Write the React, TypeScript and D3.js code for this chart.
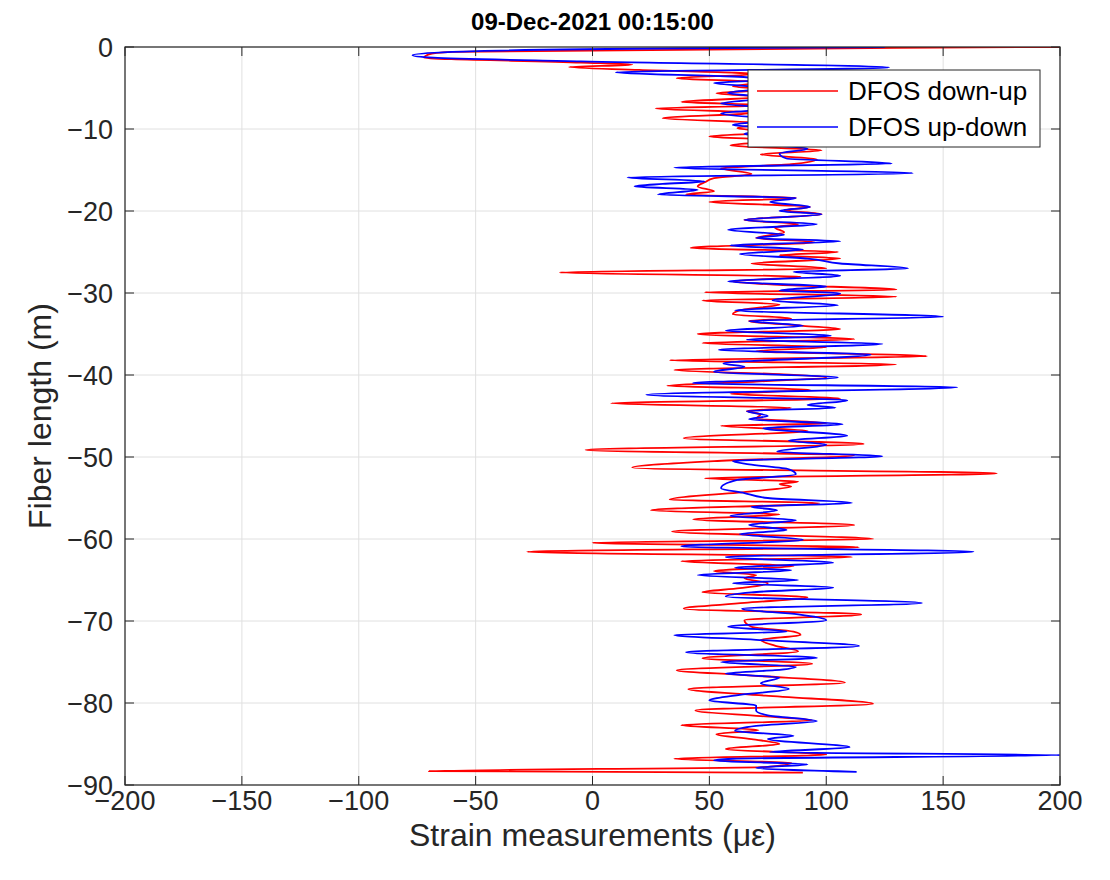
import React from "react";
import * as d3 from "d3";

// [depth (m), strain (µε)]
const redDownUp: [number, number][] = [
  [0, 200], [-0.1, 130], [-0.6, -60], [-0.9, -70], [-1.3, -72], [-1.9, -5], [-2.15, 17], [-2.45, -10],
  [-2.8, 20], [-3.3, 70], [-3.8, 36], [-4.3, 72], [-4.8, 60], [-5.2, 75], [-5.65, 53], [-6.1, 72],
  [-6.7, 38], [-7.1, 75], [-7.5, 27], [-8.0, 70], [-8.7, 30], [-9.3, 75], [-9.9, 62], [-10.4, 78],
  [-10.9, 50], [-11.4, 80], [-12.0, 59], [-12.6, 98], [-13.1, 72], [-13.7, 96], [-14.3, 85], [-14.8, 55],
  [-15.5, 68], [-16.0, 52], [-16.5, 48], [-17.0, 45], [-17.6, 52], [-18.0, 40], [-18.4, 87], [-18.9, 50],
  [-19.5, 93], [-19.9, 82], [-20.4, 98], [-21.1, 65], [-21.6, 88], [-22.0, 78], [-22.6, 82], [-23.3, 70],
  [-23.8, 95], [-24.5, 42], [-25.0, 105], [-25.4, 80], [-25.8, 106], [-26.4, 68], [-27.0, 100], [-27.5, -14],
  [-28.0, 89], [-28.6, 60], [-29.0, 80], [-29.6, 130], [-29.9, 48], [-30.45, 130], [-30.9, 47], [-31.4, 80],
  [-32.0, 65], [-32.6, 60], [-33.1, 85], [-33.4, 67], [-34.0, 90], [-34.4, 106], [-35.0, 45], [-35.65, 112],
  [-36.1, 47], [-36.6, 100], [-37.1, 70], [-37.7, 143], [-38.2, 33], [-38.7, 130], [-39.4, 35], [-39.9, 80],
  [-40.3, 100], [-40.8, 70], [-41.3, 32], [-41.8, 93], [-42.3, 59], [-42.85, 106], [-43.45, 8], [-44.0, 85],
  [-44.4, 66], [-44.8, 72], [-45.3, 70], [-45.9, 100], [-46.2, 55], [-46.8, 92], [-47.7, 39], [-48.4, 116],
  [-49.15, -3], [-49.8, 112], [-50.5, 52], [-51.3, 17], [-52.0, 173], [-52.6, 48], [-53.0, 88], [-53.3, 80],
  [-53.6, 85], [-54.2, 68], [-55.2, 33], [-55.6, 97], [-56.5, 25], [-57.0, 80], [-57.6, 43], [-58.3, 112],
  [-59.1, 34], [-60.0, 120], [-60.45, 0], [-61.0, 114], [-61.55, -28], [-62.2, 111], [-62.7, 38], [-63.3, 86],
  [-63.9, 52], [-64.4, 70], [-64.8, 65], [-65.4, 75], [-66.0, 63], [-66.5, 47], [-67.1, 92], [-67.8, 65],
  [-68.5, 39], [-69.2, 115], [-69.9, 65], [-70.7, 68], [-71.3, 86], [-71.7, 89], [-72.3, 72], [-73.0, 78],
  [-73.7, 88], [-74.55, 47], [-75.2, 94], [-76.0, 36], [-76.6, 65], [-77.5, 108], [-78.3, 41], [-79.1, 74],
  [-80.1, 120], [-80.9, 44], [-81.6, 72], [-82.1, 94], [-82.7, 38], [-83.3, 71], [-83.8, 53], [-84.4, 68],
  [-85.0, 80], [-85.6, 57], [-86.3, 100], [-86.8, 35], [-87.3, 85], [-87.8, 75], [-88.3, -70], [-88.5, 90],
];

const blueUpDown: [number, number][] = [
  [0, 125], [-0.15, 40], [-0.6, -60], [-1.0, -77], [-1.3, -68], [-1.75, -5], [-2.5, 127], [-3.1, 10],
  [-3.6, 60], [-4.0, 75], [-4.4, 52], [-5.0, 75], [-5.6, 58], [-6.2, 75], [-6.9, 55], [-7.5, 78],
  [-8.1, 55], [-8.9, 78], [-9.5, 60], [-10.0, 80], [-10.6, 65], [-11.2, 85], [-11.8, 70], [-12.4, 92],
  [-13.0, 80], [-13.6, 83], [-14.2, 128], [-14.7, 35], [-15.4, 137], [-15.9, 15], [-16.4, 48], [-16.7, 30],
  [-17.0, 18], [-17.4, 45], [-18.0, 28], [-18.4, 87], [-18.9, 76], [-19.5, 93], [-20.0, 80], [-20.4, 98],
  [-21.1, 65], [-21.6, 96], [-22.3, 58], [-22.9, 82], [-23.3, 70], [-23.7, 106], [-24.2, 59], [-24.7, 90],
  [-25.25, 63], [-25.8, 92], [-26.4, 106], [-27.0, 135], [-27.4, 86], [-27.9, 106], [-28.6, 58], [-29.2, 100],
  [-29.7, 80], [-30.05, 106], [-30.9, 77], [-31.5, 105], [-32.1, 61], [-32.9, 150], [-33.4, 67], [-34.0, 90],
  [-34.6, 57], [-35.2, 102], [-35.7, 66], [-36.2, 124], [-36.95, 54], [-37.5, 119], [-38.6, 56], [-39.0, 65],
  [-39.6, 52], [-40.3, 105], [-41.0, 43], [-41.5, 156], [-42.4, 23], [-43.1, 109], [-43.66, 92], [-44.0, 104],
  [-44.4, 66], [-45.0, 75], [-45.4, 67], [-46.0, 107], [-46.5, 73], [-47.4, 109], [-48.0, 84], [-48.5, 100],
  [-49.35, 79], [-49.9, 124], [-50.5, 60], [-50.9, 67], [-51.5, 84], [-52.1, 87], [-52.8, 62], [-53.8, 55],
  [-54.4, 65], [-55.0, 75], [-55.6, 111], [-56.06, 68], [-56.5, 79], [-57.2, 59], [-57.7, 87], [-58.3, 67],
  [-58.9, 83], [-59.4, 63], [-60.1, 90], [-60.9, 38], [-61.55, 163], [-62.2, 57], [-62.9, 103], [-63.5, 61],
  [-63.8, 85], [-64.4, 45], [-65.0, 88], [-65.4, 60], [-65.9, 103], [-66.5, 68], [-67.0, 57], [-67.8, 141],
  [-68.5, 64], [-69.2, 88], [-69.9, 100], [-70.7, 58], [-71.3, 83], [-71.7, 35], [-72.3, 70], [-73.05, 114],
  [-73.8, 40], [-74.5, 96], [-75.0, 55], [-75.6, 87], [-76.0, 78], [-76.4, 57], [-76.9, 80], [-77.6, 72],
  [-78.3, 84], [-79.0, 63], [-79.7, 50], [-80.3, 70], [-80.9, 70], [-81.5, 75], [-82.2, 96], [-82.8, 70],
  [-83.4, 61], [-84.0, 86], [-84.4, 75], [-85.4, 110], [-86.0, 76], [-86.35, 200], [-86.8, 60], [-87.0, 52],
  [-87.5, 92], [-87.9, 70], [-88.4, 113],
];

const xTicks = [-200, -150, -100, -50, 0, 50, 100, 150, 200];
const yTicks = [0, -10, -20, -30, -40, -50, -60, -70, -80, -90];
const seriesNames = ["DFOS down-up", "DFOS up-down"];
const seriesColors = ["#ff0000", "#0000ff"];
const title = "09-Dec-2021 00:15:00";
const xLabel = "Strain measurements (με)";
const yLabel = "Fiber length (m)";

const W = 1110, H = 880;
const L = 125, R = 1060, T = 47, B = 785;
const FONT = "'Liberation Sans', Arial, Helvetica, sans-serif";
const AX = "#262626";

export default function App() {
  const x = d3.scaleLinear().domain([-200, 200]).range([L, R]);
  const y = d3.scaleLinear().domain([-90, 0]).range([B, T]);
  const fmt = d3.format("d");
  const line = d3.line<[number, number]>().x(p => x(p[1])).y(p => y(p[0])).curve(d3.curveMonotoneY);
  const series = [redDownUp, blueUpDown];
  const tl = 9;
  return (
    <svg width={W} height={H} style={{ position: "absolute", left: 0, top: 0, background: "#fff" }} fontFamily={FONT}>
      <defs>
        <clipPath id="plot"><rect x={L} y={T} width={R - L} height={B - T} /></clipPath>
      </defs>
      <rect x={0} y={0} width={W} height={H} fill="#fff" />
      {xTicks.map(t => <line key={"gx" + t} x1={x(t)} x2={x(t)} y1={T} y2={B} stroke="#e0e0e0" strokeWidth={1} />)}
      {yTicks.map(t => <line key={"gy" + t} x1={L} x2={R} y1={y(t)} y2={y(t)} stroke="#e0e0e0" strokeWidth={1} />)}
      <g clipPath="url(#plot)">
        {series.map((s, i) => (
          <path key={i} d={line(s) || ""} fill="none" stroke={seriesColors[i]} strokeWidth={1.8} strokeLinejoin="round" />
        ))}
      </g>
      <rect x={L} y={T} width={R - L} height={B - T} fill="none" stroke={AX} strokeWidth={1.2} />
      {xTicks.map(t => (
        <g key={"tx" + t}>
          <line x1={x(t)} x2={x(t)} y1={B} y2={B - tl} stroke={AX} />
          <line x1={x(t)} x2={x(t)} y1={T} y2={T + tl} stroke={AX} />
          <text x={x(t)} y={810} textAnchor="middle" fontSize={27} fill={AX}>{fmt(t)}</text>
        </g>
      ))}
      {yTicks.map(t => (
        <g key={"ty" + t}>
          <line x1={L} x2={L + tl} y1={y(t)} y2={y(t)} stroke={AX} />
          <line x1={R} x2={R - tl} y1={y(t)} y2={y(t)} stroke={AX} />
          <text x={113} y={y(t) + 9.5} textAnchor="end" fontSize={27} fill={AX}>{fmt(t)}</text>
        </g>
      ))}
      <text x={(L + R) / 2} y={30} textAnchor="middle" fontSize={24} fontWeight="bold" fill="#000">{title}</text>
      <text x={(L + R) / 2} y={846} textAnchor="middle" fontSize={32} fill={AX}>{xLabel}</text>
      <text transform={`translate(51,${(T + B) / 2}) rotate(-90)`} textAnchor="middle" fontSize={32} fill={AX}>{yLabel}</text>
      <g>
        <rect x={748} y={70} width={292} height={77} fill="#fff" stroke={AX} strokeWidth={1} />
        {seriesNames.map((n, i) => (
          <g key={n}>
            <line x1={757} x2={838} y1={91 + i * 36} y2={91 + i * 36} stroke={seriesColors[i]} strokeWidth={1.5} />
            <text x={848} y={100 + i * 36} fontSize={26} fill="#000">{n}</text>
          </g>
        ))}
      </g>
    </svg>
  );
}
